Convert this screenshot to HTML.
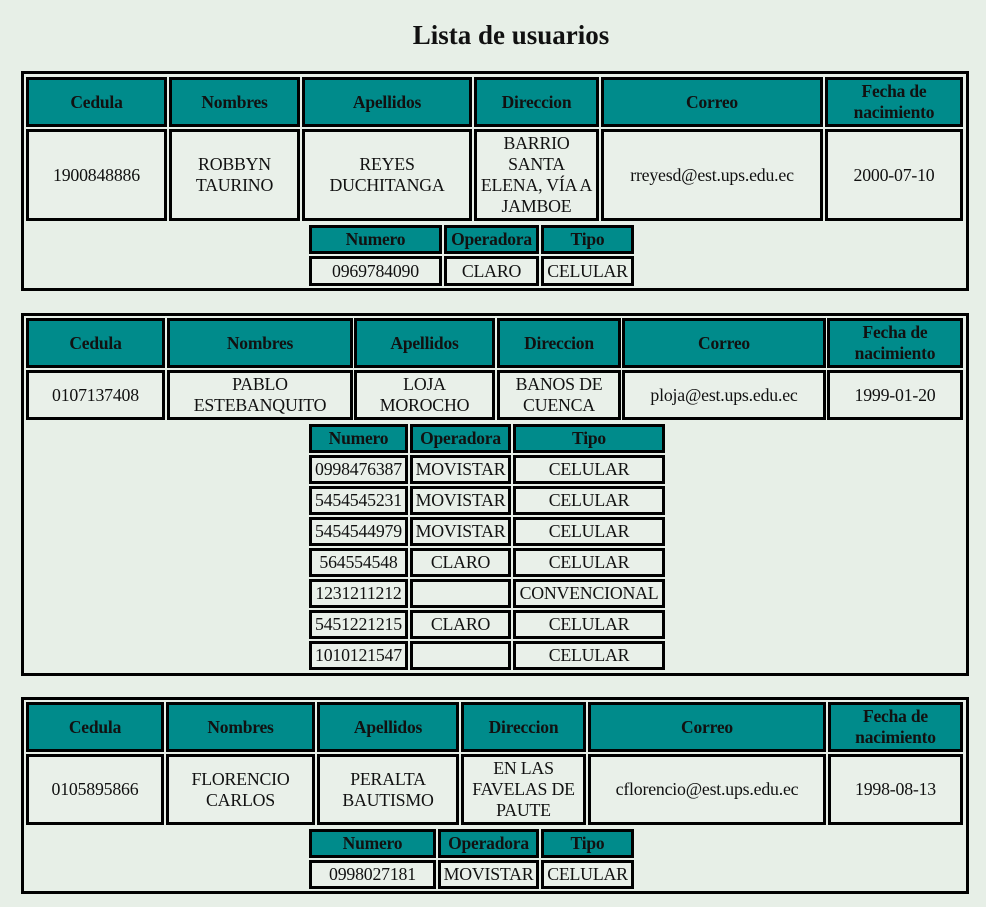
<!DOCTYPE html>
<html><head><meta charset="utf-8"><style>
html,body{margin:0;padding:0;background:#e7efe7;width:986px;height:907px;overflow:hidden;position:relative;font-family:"Liberation Serif",serif;color:#111}
h1{position:absolute;left:0;width:1022px;top:19px;margin:0;text-align:center;font-size:27px;line-height:32px;font-weight:bold}
.t{position:absolute;border:3px solid #000;box-sizing:border-box}
.c{position:absolute;border:3px solid #000;box-sizing:border-box;display:flex;align-items:center;justify-content:center;text-align:center;font-size:17.8px;line-height:21px;background:#e9f0e9;white-space:nowrap;letter-spacing:-0.2px}
.h{background:#008b8b;font-weight:bold;font-size:17.5px;line-height:21px}
</style></head><body>
<h1>Lista de usuarios</h1>

<div class="t" style="left:21px;top:71px;width:948px;height:220px"></div>
<div class="c h" style="left:26px;top:77px;width:141px;height:50px">Cedula</div>
<div class="c h" style="left:169px;top:77px;width:131px;height:50px">Nombres</div>
<div class="c h" style="left:302px;top:77px;width:170px;height:50px">Apellidos</div>
<div class="c h" style="left:474px;top:77px;width:125px;height:50px">Direccion</div>
<div class="c h" style="left:601px;top:77px;width:222px;height:50px">Correo</div>
<div class="c h" style="left:825px;top:77px;width:138px;height:50px">Fecha de<br>nacimiento</div>
<div class="c" style="left:26px;top:129px;width:141px;height:92px">1900848886</div>
<div class="c" style="left:169px;top:129px;width:131px;height:92px">ROBBYN<br>TAURINO</div>
<div class="c" style="left:302px;top:129px;width:170px;height:92px">REYES<br>DUCHITANGA</div>
<div class="c" style="left:474px;top:129px;width:125px;height:92px">BARRIO<br>SANTA<br>ELENA, VÍA A<br>JAMBOE</div>
<div class="c" style="left:601px;top:129px;width:222px;height:92px">rreyesd@est.ups.edu.ec</div>
<div class="c" style="left:825px;top:129px;width:138px;height:92px">2000-07-10</div>
<div class="c h" style="left:309px;top:225px;width:133px;height:29px">Numero</div>
<div class="c h" style="left:444px;top:225px;width:95px;height:29px">Operadora</div>
<div class="c h" style="left:541px;top:225px;width:93px;height:29px">Tipo</div>
<div class="c" style="left:309px;top:256px;width:133px;height:30px">0969784090</div>
<div class="c" style="left:444px;top:256px;width:95px;height:30px">CLARO</div>
<div class="c" style="left:541px;top:256px;width:93px;height:30px">CELULAR</div>

<div class="t" style="left:21px;top:313px;width:948px;height:363px"></div>
<div class="c h" style="left:26px;top:318px;width:139px;height:50px">Cedula</div>
<div class="c h" style="left:167px;top:318px;width:186px;height:50px">Nombres</div>
<div class="c h" style="left:354px;top:318px;width:141px;height:50px">Apellidos</div>
<div class="c h" style="left:497px;top:318px;width:124px;height:50px">Direccion</div>
<div class="c h" style="left:622px;top:318px;width:204px;height:50px">Correo</div>
<div class="c h" style="left:827px;top:318px;width:136px;height:50px">Fecha de<br>nacimiento</div>
<div class="c" style="left:26px;top:370px;width:139px;height:50px">0107137408</div>
<div class="c" style="left:167px;top:370px;width:186px;height:50px">PABLO<br>ESTEBANQUITO</div>
<div class="c" style="left:354px;top:370px;width:141px;height:50px">LOJA<br>MOROCHO</div>
<div class="c" style="left:497px;top:370px;width:124px;height:50px">BANOS DE<br>CUENCA</div>
<div class="c" style="left:622px;top:370px;width:204px;height:50px">ploja@est.ups.edu.ec</div>
<div class="c" style="left:827px;top:370px;width:136px;height:50px">1999-01-20</div>
<div class="c h" style="left:309px;top:424px;width:99px;height:29px">Numero</div>
<div class="c h" style="left:410px;top:424px;width:101px;height:29px">Operadora</div>
<div class="c h" style="left:513px;top:424px;width:152px;height:29px">Tipo</div>
<div class="c" style="left:309px;top:455px;width:99px;height:29px">0998476387</div>
<div class="c" style="left:410px;top:455px;width:101px;height:29px">MOVISTAR</div>
<div class="c" style="left:513px;top:455px;width:152px;height:29px">CELULAR</div>
<div class="c" style="left:309px;top:486px;width:99px;height:29px">5454545231</div>
<div class="c" style="left:410px;top:486px;width:101px;height:29px">MOVISTAR</div>
<div class="c" style="left:513px;top:486px;width:152px;height:29px">CELULAR</div>
<div class="c" style="left:309px;top:517px;width:99px;height:29px">5454544979</div>
<div class="c" style="left:410px;top:517px;width:101px;height:29px">MOVISTAR</div>
<div class="c" style="left:513px;top:517px;width:152px;height:29px">CELULAR</div>
<div class="c" style="left:309px;top:548px;width:99px;height:29px">564554548</div>
<div class="c" style="left:410px;top:548px;width:101px;height:29px">CLARO</div>
<div class="c" style="left:513px;top:548px;width:152px;height:29px">CELULAR</div>
<div class="c" style="left:309px;top:579px;width:99px;height:29px">1231211212</div>
<div class="c" style="left:410px;top:579px;width:101px;height:29px"></div>
<div class="c" style="left:513px;top:579px;width:152px;height:29px">CONVENCIONAL</div>
<div class="c" style="left:309px;top:610px;width:99px;height:29px">5451221215</div>
<div class="c" style="left:410px;top:610px;width:101px;height:29px">CLARO</div>
<div class="c" style="left:513px;top:610px;width:152px;height:29px">CELULAR</div>
<div class="c" style="left:309px;top:641px;width:99px;height:29px">1010121547</div>
<div class="c" style="left:410px;top:641px;width:101px;height:29px"></div>
<div class="c" style="left:513px;top:641px;width:152px;height:29px">CELULAR</div>

<div class="t" style="left:21px;top:697px;width:948px;height:197px"></div>
<div class="c h" style="left:26px;top:702px;width:138px;height:50px">Cedula</div>
<div class="c h" style="left:166px;top:702px;width:149px;height:50px">Nombres</div>
<div class="c h" style="left:317px;top:702px;width:142px;height:50px">Apellidos</div>
<div class="c h" style="left:461px;top:702px;width:125px;height:50px">Direccion</div>
<div class="c h" style="left:588px;top:702px;width:238px;height:50px">Correo</div>
<div class="c h" style="left:828px;top:702px;width:135px;height:50px">Fecha de<br>nacimiento</div>
<div class="c" style="left:26px;top:754px;width:138px;height:71px">0105895866</div>
<div class="c" style="left:166px;top:754px;width:149px;height:71px">FLORENCIO<br>CARLOS</div>
<div class="c" style="left:317px;top:754px;width:142px;height:71px">PERALTA<br>BAUTISMO</div>
<div class="c" style="left:461px;top:754px;width:125px;height:71px">EN LAS<br>FAVELAS DE<br>PAUTE</div>
<div class="c" style="left:588px;top:754px;width:238px;height:71px">cflorencio@est.ups.edu.ec</div>
<div class="c" style="left:828px;top:754px;width:135px;height:71px">1998-08-13</div>
<div class="c h" style="left:309px;top:829px;width:127px;height:29px">Numero</div>
<div class="c h" style="left:438px;top:829px;width:101px;height:29px">Operadora</div>
<div class="c h" style="left:541px;top:829px;width:93px;height:29px">Tipo</div>
<div class="c" style="left:309px;top:860px;width:127px;height:29px">0998027181</div>
<div class="c" style="left:438px;top:860px;width:101px;height:29px">MOVISTAR</div>
<div class="c" style="left:541px;top:860px;width:93px;height:29px">CELULAR</div>
</body></html>
